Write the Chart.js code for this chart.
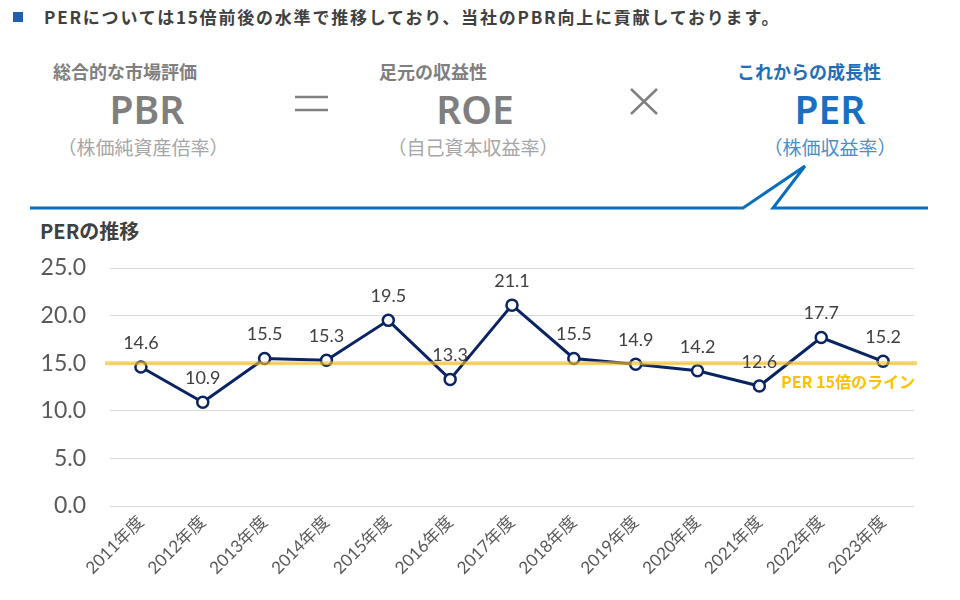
<!DOCTYPE html>
<html lang="ja">
<head>
    <meta charset="UTF-8">
    <title>PERの推移</title>
    <script src="https://cdn.jsdelivr.net/npm/chart.js@4.4.1/dist/chart.umd.min.js"></script>
    <style>
        * { margin: 0; padding: 0; }
        body { width: 960px; height: 600px; background: #fff; position: relative; overflow: hidden;
               font-family: "Noto Sans CJK JP", "Noto Sans", sans-serif; }
        .t { position: absolute; white-space: nowrap; }
        .c { transform: translateX(-50%); text-align: center; }
        #wrap { position: absolute; left: 0; top: 0; width: 960px; height: 600px; }
    </style>
</head>
<body>
<div class="t" style="left:13px;top:12px;width:10px;height:10px;background:#1F5FAD"></div>
<div class="t" style="left:44px;top:4px;font-size:17px;font-weight:bold;color:#404040;letter-spacing:1.8px">PERについては15倍前後の水準で推移しており、当社のPBR向上に貢献しております。</div>

<div class="t c" style="left:125px;top:58px;font-size:18px;font-weight:bold;color:#7f7f7f">総合的な市場評価</div>
<div class="t c" style="left:147px;top:82px;font-size:39px;font-weight:600;color:#7f7f7f;font-family:'Noto Sans'">PBR</div>
<div class="t c" style="left:143px;top:133px;font-size:19px;color:#a6a6a6">（株価純資産倍率）</div>

<div class="t c" style="left:433px;top:58px;font-size:18px;font-weight:bold;color:#7f7f7f">足元の収益性</div>
<div class="t c" style="left:475px;top:82px;font-size:39px;font-weight:600;color:#7f7f7f;font-family:'Noto Sans'">ROE</div>
<div class="t c" style="left:473px;top:133px;font-size:19px;color:#a6a6a6">（自己資本収益率）</div>

<div class="t c" style="left:809px;top:58px;font-size:18px;font-weight:bold;color:#1F6FB8">これからの成長性</div>
<div class="t c" style="left:830px;top:82px;font-size:39px;font-weight:600;color:#1A6FC0;font-family:'Noto Sans'">PER</div>
<div class="t c" style="left:830px;top:133px;font-size:19px;color:#4A90C8">（株価収益率）</div>

<svg class="t" style="left:0;top:0" width="960" height="220">
    <g stroke="#808080" stroke-width="2.5">
        <line x1="295" y1="97" x2="328" y2="97"/>
        <line x1="295" y1="110" x2="328" y2="110"/>
        <line x1="631" y1="89" x2="657" y2="114"/>
        <line x1="657" y1="89" x2="631" y2="114"/>
    </g>
    <polyline points="30,208 743,208 805,166 773,208 928,208" fill="none" stroke="#0A6EBD" stroke-width="3"/>
</svg>

<div class="t" style="left:40px;top:216px;font-size:20px;font-weight:bold;color:#404040">PERの推移</div>

<div id="wrap"><canvas id="perChart" width="960" height="600"></canvas></div>
<script>
    // 年度
    var years = ["2011年度", "2012年度", "2013年度", "2014年度", "2015年度", "2016年度", "2017年度",
                 "2018年度", "2019年度", "2020年度", "2021年度", "2022年度", "2023年度"];
    // PER (倍)
    var perValues = [14.6, 10.9, 15.5, 15.3, 19.5, 13.3, 21.1, 15.5, 14.9, 14.2, 12.6, 17.7, 15.2];
    var refValue = 15;
    var refLabel = "PER 15倍のライン";
    var yTicks = [0, 5, 10, 15, 20, 25];

    var latin = "Lato, 'Noto Sans CJK JP', sans-serif";

    // 15倍ラインとデータラベル
    var overlay = {
        id: 'overlay',
        afterDatasetsDraw: function (chart) {
            var ctx = chart.ctx, area = chart.chartArea, y = chart.scales.y;
            var py = y.getPixelForValue(refValue);
            ctx.save();
            ctx.strokeStyle = "rgba(245,190,30,0.65)";
            ctx.lineWidth = 4;
            ctx.beginPath();
            ctx.moveTo(area.left - 5, py);
            ctx.lineTo(area.right + 3, py);
            ctx.stroke();

            ctx.fillStyle = "#FFC000";
            ctx.font = "bold 16px 'Noto Sans CJK JP', sans-serif";
            ctx.textAlign = "right";
            ctx.textBaseline = "middle";
            ctx.fillText(refLabel, area.right + 1, py + 19);

            var meta = chart.getDatasetMeta(0);
            ctx.fillStyle = "#404040";
            ctx.font = "18px " + latin;
            ctx.textAlign = "center";
            meta.data.forEach(function (pt, i) {
                ctx.fillText(perValues[i].toFixed(1), pt.x, pt.y - 24);
            });
            ctx.restore();
        }
    };

    var ctx = document.getElementById('perChart').getContext('2d');
    var perChart = new Chart(ctx, {
        type: 'line',
        data: {
            labels: years,
            datasets: [{
                label: "PER",
                data: perValues,
                borderColor: "#0A2463",
                borderWidth: 3,
                pointRadius: 5.5,
                pointBorderWidth: 2.5,
                pointBackgroundColor: "#fff",
                pointBorderColor: "#0A2463",
                fill: false,
                tension: 0
            }]
        },
        options: {
            responsive: false,
            animation: false,
            layout: { padding: { top: 268, right: 46, bottom: 0, left: 0 } },
            plugins: { legend: { display: false }, tooltip: { enabled: false } },
            scales: {
                x: {
                    offset: true,
                    grid: { display: false, drawTicks: false },
                    border: { display: false },
                    ticks: {
                        minRotation: 45, maxRotation: 45, padding: 6,
                        color: "#595959",
                        font: { size: 17, family: latin }
                    },
                    afterFit: function (s) { s.height = 94; }
                },
                y: {
                    min: yTicks[0], max: yTicks[yTicks.length - 1],
                    afterBuildTicks: function (s) { s.ticks = yTicks.map(function (v) { return { value: v }; }); },
                    grid: { color: "#d9d9d9", lineWidth: 1, drawTicks: false },
                    border: { display: false },
                    ticks: {
                        padding: 24,
                        color: "#595959",
                        font: { size: 23, family: latin },
                        callback: function (v) { return Number(v).toFixed(1); }
                    },
                    afterFit: function (s) { s.width = 110; }
                }
            }
        },
        plugins: [overlay]
    });
</script>
</body>
</html>
